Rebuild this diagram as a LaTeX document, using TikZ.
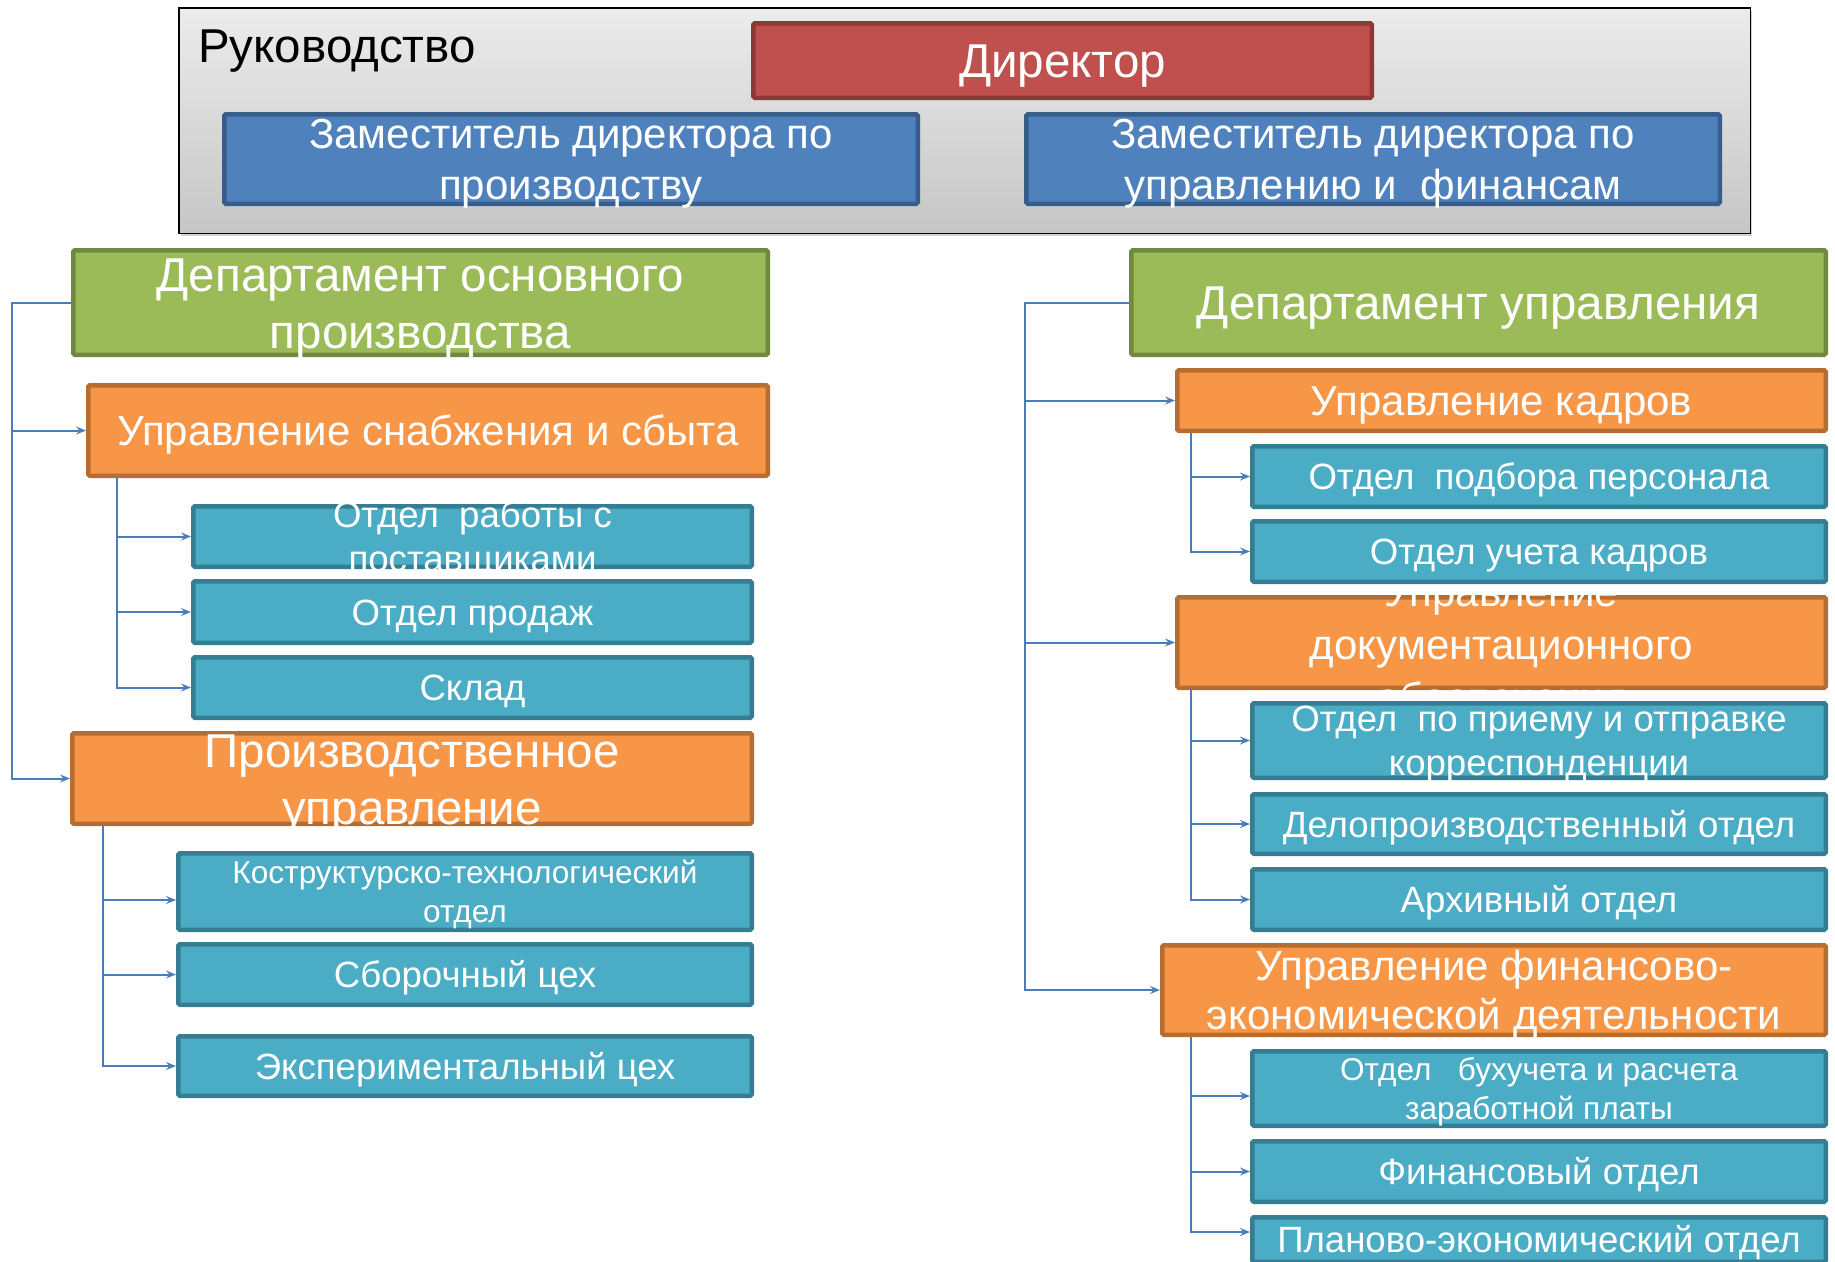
\documentclass[tikz,border=0pt]{standalone}
\usepackage{fontspec}
\setmainfont{Liberation Sans}
\usetikzlibrary{arrows.meta,shadows}
\definecolor{cRed}{HTML}{C0504D}\definecolor{cRedB}{HTML}{8C3836}
\definecolor{cBlue}{HTML}{4F81BD}\definecolor{cBlueB}{HTML}{385D8A}
\definecolor{cGreen}{HTML}{9BBB59}\definecolor{cGreenB}{HTML}{71893F}
\definecolor{cOrange}{HTML}{F79646}\definecolor{cOrangeB}{HTML}{B66D31}
\definecolor{cTeal}{HTML}{4BACC6}\definecolor{cTealB}{HTML}{357D91}
\definecolor{cLine}{HTML}{4A7EBB}
\newcommand{\obox}[6]{\node[#2, minimum width={#5-#3-4.5}, minimum height={#6-#4-4.5}] (#1) at ({(#3+#5)/2},{(#4+#6)/2}) {};}
\newcommand{\ttab}[1]{\begin{tabular}[t]{@{}c@{}}#1\end{tabular}}
\newcommand{\otext}[3]{\node[#2] (#1t) at (#1.center) {\ttab{#3}};}
\begin{document}
\begin{tikzpicture}[x=1pt,y=-1pt,
  box/.style={draw, line width=4.5pt, rounded corners=1.5pt, inner sep=0pt},
  redbox/.style={box, fill=cRed, draw=cRedB},
  bluebox/.style={box, fill=cBlue, draw=cBlueB},
  greenbox/.style={box, fill=cGreen, draw=cGreenB},
  orangebox/.style={box, fill=cOrange, draw=cOrangeB},
  tealbox/.style={box, fill=cTeal, draw=cTealB},
  wtxt/.style={text=white, inner sep=0pt, text depth=0pt},
  fA/.style={wtxt, font=\fontsize{47.5}{57}\selectfont, text height=34pt},
  fB/.style={wtxt, font=\fontsize{42}{51}\selectfont, text height=30pt},
  fC/.style={wtxt, font=\fontsize{36.6}{44}\selectfont, text height=26.2pt},
  fD/.style={wtxt, font=\fontsize{31.6}{38.5}\selectfont, text height=22.6pt},
  conn/.style={draw=cLine, line width=2pt},
  arr/.style={conn, -{Stealth[length=10pt,width=8pt,inset=3.5pt]}}]
\fill[white] (0,0) rectangle (1835,1261);
\useasboundingbox (0,0) rectangle (1835,1261);
% top group
\node[draw=black, line width=1.5pt, top color=gray!15, bottom color=gray!45,
  minimum width=1571.5, minimum height=225.5, inner sep=0pt,
  drop shadow={shadow xshift=2pt, shadow yshift=-3pt, opacity=0.35}] (ruk) at (964.5,120.5) {};
\node[anchor=base west, inner sep=0pt, font=\fontsize{47.5}{57}\selectfont] (rukt) at (198,62) {Руководство};
\obox{dir}{redbox}{751}{21}{1374}{100}
\otext{dir}{fA}{Директор}
\obox{zamA}{bluebox}{222}{112}{920}{206}
\otext{zamA}{fB, text depth=51pt}{Заместитель директора по\\производству}
\obox{zamB}{bluebox}{1024}{112}{1722}{206}
\otext{zamB}{fB, text depth=51pt}{Заместитель директора по\\управлению и\ \ финансам}
% left column
\obox{dA}{greenbox}{71}{248}{770}{357}
\otext{dA}{fA, text depth=57pt}{Департамент основного\\производства}
\obox{os}{orangebox}{86}{383}{770}{478}
\otext{os}{fB}{Управление снабжения и сбыта}
\obox{tA}{tealbox}{191}{504}{754}{569}
\otext{tA}{fC, text depth=44pt}{Отдел\ \ работы с\\поставщиками}
\obox{tB}{tealbox}{191}{579}{754}{645}
\otext{tB}{fC}{Отдел продаж}
\obox{tC}{tealbox}{191}{655}{754}{720}
\otext{tC}{fC}{Склад}
\obox{pu}{orangebox}{70}{731}{754}{826}
\otext{pu}{fA, text depth=57pt}{Производственное\\управление}
\obox{kA}{tealbox}{176}{851}{754}{932}
\otext{kA}{fD, text depth=38.5pt}{Коструктурско-технологический\\отдел}
\obox{kB}{tealbox}{176}{942}{754}{1007}
\otext{kB}{fC}{Сборочный цех}
\obox{kC}{tealbox}{176}{1034}{754}{1098}
\otext{kC}{fC}{Экспериментальный цех}
% right column
\obox{dB}{greenbox}{1129}{248}{1828}{357}
\otext{dB}{fA}{Департамент управления}
\obox{uk}{orangebox}{1175}{368}{1828}{433}
\otext{uk}{fB}{Управление кадров}
% the overflowing text of this box lies beneath the boxes drawn after it
\obox{ud}{orangebox}{1175}{595}{1828}{690}
\otext{ud}{fB, font=\fontsize{42}{53}\selectfont, text depth=106pt, yshift=-2pt}{Управление\\документационного\\обеспечения}
\obox{rA}{tealbox}{1250}{444}{1828}{509}
\otext{rA}{fC}{Отдел\ \ подбора персонала}
\obox{rB}{tealbox}{1250}{519}{1828}{584}
\otext{rB}{fC}{Отдел учета кадров}
\obox{rC}{tealbox}{1250}{701}{1828}{780}
\otext{rC}{fC, text depth=44pt}{Отдел\ \ по приему и отправке\\корреспонденции}
\obox{rD}{tealbox}{1250}{792}{1828}{856}
\otext{rD}{fC}{Делопроизводственный отдел}
\obox{rE}{tealbox}{1250}{867}{1828}{932}
\otext{rE}{fC}{Архивный отдел}
\obox{uf}{orangebox}{1160}{943}{1828}{1037}
\otext{uf}{fB, font=\fontsize{42}{49}\selectfont, text depth=49pt}{Управление финансово-\\экономической деятельности}
\obox{rF}{tealbox}{1250}{1049}{1828}{1128}
\otext{rF}{fD, text depth=38.5pt}{Отдел\ \ \ бухучета и расчета\\заработной платы}
\obox{rG}{tealbox}{1250}{1139}{1828}{1204}
\otext{rG}{fC}{Финансовый отдел}
\obox{rH}{tealbox}{1250}{1215}{1828}{1264}
\otext{rH}{fC}{Планово-экономический отдел}
% connector coordinates
\coordinate (L) at (12,0);
\coordinate (S1) at (117,0);
\coordinate (S2) at (103,0);
\coordinate (R) at (1025,0);
\coordinate (S3) at (1191,0);
\coordinate (kAa) at ([yshift=-8.5pt]kA.west);
\coordinate (rFa) at ([yshift=-7.5pt]rF.west);
\coordinate (rHa) at ([yshift=7.5pt]rH.west);
% left connectors
\draw[arr] (dA.west) -- (dA.west -| L) |- (pu.west);
\draw[arr] (L |- os.west) -- (os.west);
\draw[arr] (os.south -| S1) |- (tC.west);
\draw[arr] (S1 |- tA.west) -- (tA.west);
\draw[arr] (S1 |- tB.west) -- (tB.west);
\draw[arr] (pu.south -| S2) |- (kC.west);
\draw[arr] (kAa -| S2) -- (kAa);
\draw[arr] (S2 |- kB.west) -- (kB.west);
% right connectors
\draw[arr] (dB.west) -- (dB.west -| R) |- (uf.west);
\draw[arr] (R |- uk.west) -- (uk.west);
\draw[arr] (R |- ud.west) -- (ud.west);
\draw[arr] (uk.south -| S3) |- (rB.west);
\draw[arr] (S3 |- rA.west) -- (rA.west);
\draw[arr] (ud.south -| S3) |- (rE.west);
\draw[arr] (S3 |- rC.west) -- (rC.west);
\draw[arr] (S3 |- rD.west) -- (rD.west);
\draw[arr] (uf.south -| S3) |- (rHa);
\draw[arr] (rFa -| S3) -- (rFa);
\draw[arr] (S3 |- rG.west) -- (rG.west);
\end{tikzpicture}
\end{document}
